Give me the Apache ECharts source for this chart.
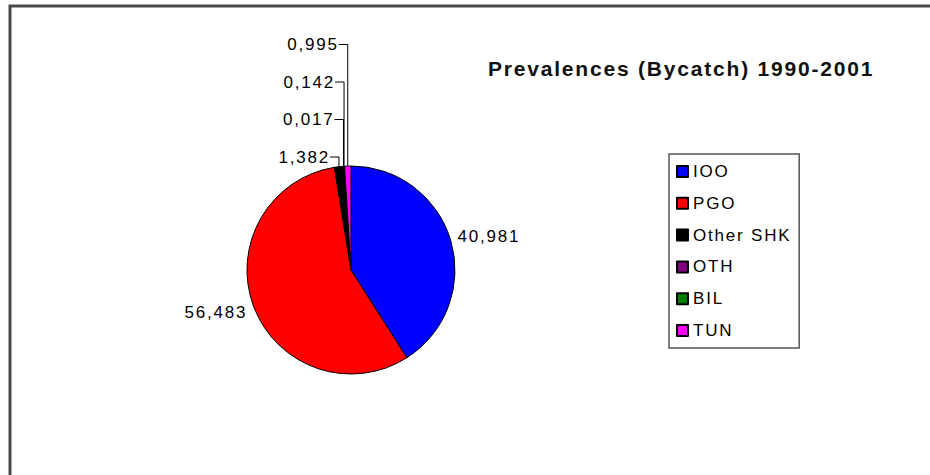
<!DOCTYPE html>
<html>
<head>
<meta charset="utf-8">
<script src="https://cdn.jsdelivr.net/npm/echarts@6/dist/echarts.min.js"></script>
<style>
  html, body { margin: 0; padding: 0; background: #fff; }
  #chart { width: 930px; height: 475px; }
  /* tracked lettering, as in the printed figure */
  #chart text { letter-spacing: 1.8px; }
</style>
</head>
<body>
<div id="chart"></div>
<script>
// Prevalence (%) of each bycatch group, 1990-2001
const categories = ['IOO', 'PGO', 'Other SHK', 'OTH', 'BIL', 'TUN'];
const prevalence = [40.981, 56.483, 1.382, 0.017, 0.142, 0.995];
const sliceColors = ['#0000ff', '#ff0000', '#000000', '#800080', '#008000', '#ff00ff'];
const chartTitle = 'Prevalences (Bycatch) 1990-2001';

// decimal comma labels
const valueLabels = prevalence.map(v => v.toFixed(3).replace('.', ','));

// slices under this share get their labels stacked above the pie
const SMALL_SHARE = 5;
const smallRank = [];
let rankCounter = 0;
prevalence.forEach((v, i) => { smallRank[i] = v < SMALL_SHARE ? rankCounter++ : -1; });

const STACK_STEP = 37.5;
const FONT = '"Liberation Sans", Arial, Helvetica, sans-serif';

const chart = echarts.init(document.getElementById('chart'), null, { renderer: 'svg' });

function placeLabel(params) {
  const data = chart.getModel().getSeriesByIndex(0).getData();
  const lay = data.getItemLayout(params.dataIndex);
  const mid = (lay.startAngle + lay.endAngle) / 2;
  const c = Math.cos(mid), s = Math.sin(mid);
  const ex = lay.cx + lay.r * c, ey = lay.cy + lay.r * s;
  const k = smallRank[params.dataIndex];
  if (k >= 0) {
    // elbow leader: straight up from the slice, then a short tick to the text
    const y = lay.cy - lay.r - 9 - k * STACK_STEP;
    return {
      x: ex - 9, y: y, align: 'right', verticalAlign: 'middle',
      labelLinePoints: [[ex, ey], [ex, y], [ex - 9, y]]
    };
  }
  const h = params.labelRect.height;
  const ax = ex + 7 * c, ay = ey + 7 * s;
  return {
    x: ax, y: ay + s * h / 2, align: c >= 0 ? 'left' : 'right', verticalAlign: 'middle',
    labelLinePoints: [[ex, ey], [ex, ey], [ex, ey]]
  };
}

const option = {
  backgroundColor: '#ffffff',
  animation: false,
  title: {
    text: chartTitle,
    left: 483, top: 53,
    textStyle: { fontFamily: FONT, fontSize: 21, fontWeight: 'bold', color: '#111' }
  },
  legend: {
    orient: 'vertical',
    left: 669, top: 154,
    padding: [9, 24, 9, 7],
    itemGap: 14.8,
    itemWidth: 11, itemHeight: 11,
    icon: 'rect',
    borderColor: '#555', borderWidth: 1.5,
    textStyle: { fontFamily: FONT, fontSize: 17, lineHeight: 16.5, color: '#000' },
    data: categories
  },
  graphic: [{
    type: 'polyline',
    shape: { points: [[10, 475], [10, 6], [930, 6]] },
    style: { stroke: '#4a4a4a', lineWidth: 3, fill: null },
    silent: true
  }],
  series: [{
    type: 'pie',
    center: [351, 270],
    radius: 104,
    startAngle: 90,
    clockwise: true,
    avoidLabelOverlap: false,
    itemStyle: { borderColor: '#000', borderWidth: 1 },
    label: {
      show: true, position: 'outside',
      fontFamily: FONT, fontSize: 17, color: '#000',
      formatter: p => valueLabels[p.dataIndex]
    },
    labelLine: { show: true, length: 0, length2: 0, lineStyle: { color: '#000', width: 1 } },
    labelLayout: placeLabel,
    emphasis: { disabled: true },
    data: categories.map((name, i) => ({
      name: name, value: prevalence[i], itemStyle: { color: sliceColors[i] }
    }))
  }]
};

chart.setOption(option);
</script>
</body>
</html>
